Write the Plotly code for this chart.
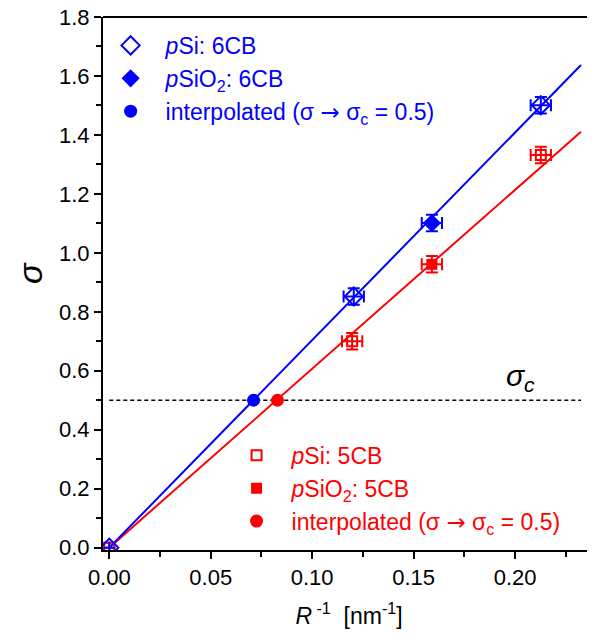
import plotly.graph_objects as go

# ---- data ----
fit_x = [0.0, 0.2325]
blue_fit_y = [0.0, 1.637]
red_fit_y = [0.0, 1.411]

# 6CB (blue)
psi6_x = [0.0, 0.1205, 0.2127]
psi6_y = [0.0, 0.852, 1.501]
psi6_ex = [0.0, 0.005, 0.005]
psi6_ey = [0.0, 0.028, 0.028]
psio6_x = [0.159]
psio6_y = [1.101]
psio6_ex = [0.005]
psio6_ey = [0.028]
interp6_x = [0.0711]
interp6_y = [0.5]

# 5CB (red)
psi5_x = [0.0, 0.1197, 0.2127]
psi5_y = [0.0, 0.700, 1.332]
psi5_ex = [0.0, 0.005, 0.005]
psi5_ey = [0.0, 0.028, 0.028]
psio5_x = [0.159]
psio5_y = [0.961]
psio5_ex = [0.005]
psio5_ey = [0.028]
interp5_x = [0.0829]
interp5_y = [0.5]

sigma_c_x = [0.0, 0.2325]
sigma_c_y = [0.5, 0.5]

x_ticks = [0.0, 0.05, 0.10, 0.15, 0.20]
y_ticks = [0.0, 0.2, 0.4, 0.6, 0.8, 1.0, 1.2, 1.4, 1.6, 1.8]

BLUE = "#0000ff"
RED = "#ff0000"
FONT = "Liberation Sans, Arial, sans-serif"

fig = go.Figure()

# critical line
fig.add_trace(go.Scatter(x=sigma_c_x, y=sigma_c_y, mode="lines",
                         line=dict(color="black", width=1.5, dash="4px,3px"),
                         showlegend=False, hoverinfo="skip"))
# fits
fig.add_trace(go.Scatter(x=fit_x, y=red_fit_y, mode="lines",
                         line=dict(color=RED, width=2), showlegend=False))
fig.add_trace(go.Scatter(x=fit_x, y=blue_fit_y, mode="lines",
                         line=dict(color=BLUE, width=2), showlegend=False))

def eb(vals, color):
    return dict(type="data", array=vals, color=color, thickness=2, width=6, visible=True)

ARROW = "<span style='font-family:DejaVu Sans'>→</span>"
lbl_int = "interpolated (σ " + ARROW + " σ<sub>c</sub> = 0.5)"

# red series
fig.add_trace(go.Scatter(x=psi5_x, y=psi5_y, mode="markers",
                         marker=dict(symbol="square-open", size=10, color=RED, line=dict(width=2, color=RED)),
                         error_x=eb(psi5_ex, RED), error_y=eb(psi5_ey, RED),
                         name="<i>p</i>Si: 5CB", legend="legend2"))
fig.add_trace(go.Scatter(x=psio5_x, y=psio5_y, mode="markers",
                         marker=dict(symbol="square", size=11, color=RED),
                         error_x=eb(psio5_ex, RED), error_y=eb(psio5_ey, RED),
                         name="<i>p</i>SiO<sub>2</sub>: 5CB", legend="legend2"))
fig.add_trace(go.Scatter(x=interp5_x, y=interp5_y, mode="markers",
                         marker=dict(symbol="circle", size=13, color=RED),
                         name=lbl_int, legend="legend2"))

# blue series
fig.add_trace(go.Scatter(x=psi6_x, y=psi6_y, mode="markers",
                         marker=dict(symbol="diamond-open", size=14, color=BLUE, line=dict(width=2, color=BLUE)),
                         error_x=eb(psi6_ex, BLUE), error_y=eb(psi6_ey, BLUE),
                         name="<i>p</i>Si: 6CB", legend="legend"))
fig.add_trace(go.Scatter(x=psio6_x, y=psio6_y, mode="markers",
                         marker=dict(symbol="diamond", size=14, color=BLUE),
                         error_x=eb(psio6_ex, BLUE), error_y=eb(psio6_ey, BLUE),
                         name="<i>p</i>SiO<sub>2</sub>: 6CB", legend="legend"))
fig.add_trace(go.Scatter(x=interp6_x, y=interp6_y, mode="markers",
                         marker=dict(symbol="circle", size=13, color=BLUE),
                         name=lbl_int, legend="legend"))

fig.add_annotation(x=0.2025, y=0.5, xref="x", yref="y", yanchor="bottom", yshift=2,
                   text="<i>σ<sub>c</sub></i>", showarrow=False,
                   font=dict(family=FONT, size=30, color="black"))

# y-axis title
fig.add_annotation(x=-0.148, y=0.52, xref="paper", yref="paper", xanchor="center", yanchor="middle",
                   text="<i>σ</i>", textangle=-90, showarrow=False,
                   font=dict(family=FONT, size=34, color="black"))

# top frame line
fig.add_shape(type="line", xref="paper", yref="paper", x0=0, x1=1, y0=1, y1=1,
              line=dict(color="black", width=2), layer="above")

legend_common = dict(bgcolor="rgba(0,0,0,0)", borderwidth=0, itemwidth=60,
                     traceorder="normal", xanchor="left", yanchor="top")

fig.update_layout(
    width=587, height=632,
    margin=dict(l=95, r=0, t=9, b=90),
    paper_bgcolor="white", plot_bgcolor="white",
    font=dict(family=FONT, size=22, color="black"),
    legend=dict(x=-0.015, y=0.987, font=dict(family=FONT, size=23, color=BLUE), **legend_common),
    legend2=dict(x=0.241, y=0.218, font=dict(family=FONT, size=23, color=RED), **legend_common),
    xaxis=dict(range=[-0.0031, 0.2394], tickvals=x_ticks, tickformat=".2f",
               ticks="outside", ticklen=7, tickwidth=2, tickcolor="black",
               minor=dict(dtick=0.025, tick0=0, ticks="outside", ticklen=5, tickwidth=2, tickcolor="black"),
               showline=True, linewidth=2, linecolor="black",
               showgrid=False, zeroline=False, automargin=False, ticklabeloverflow="allow",
               tickfont=dict(family=FONT, size=22, color="black"),
               title=dict(text="<i>R</i><sup> -1</sup>  [nm<sup>-1</sup>]",
                          font=dict(family=FONT, size=23, color="black"), standoff=18)),
    yaxis=dict(range=[-0.008, 1.8], tickvals=y_ticks, tickformat=".1f",
               ticks="outside", ticklen=7, tickwidth=2, tickcolor="black",
               minor=dict(dtick=0.1, tick0=0, ticks="outside", ticklen=5, tickwidth=2, tickcolor="black"),
               showline=True, linewidth=2, linecolor="black",
               showgrid=False, zeroline=False, automargin=False, ticklabeloverflow="allow",
               tickfont=dict(family=FONT, size=22, color="black")),
)

fig.write_html("out.html")
